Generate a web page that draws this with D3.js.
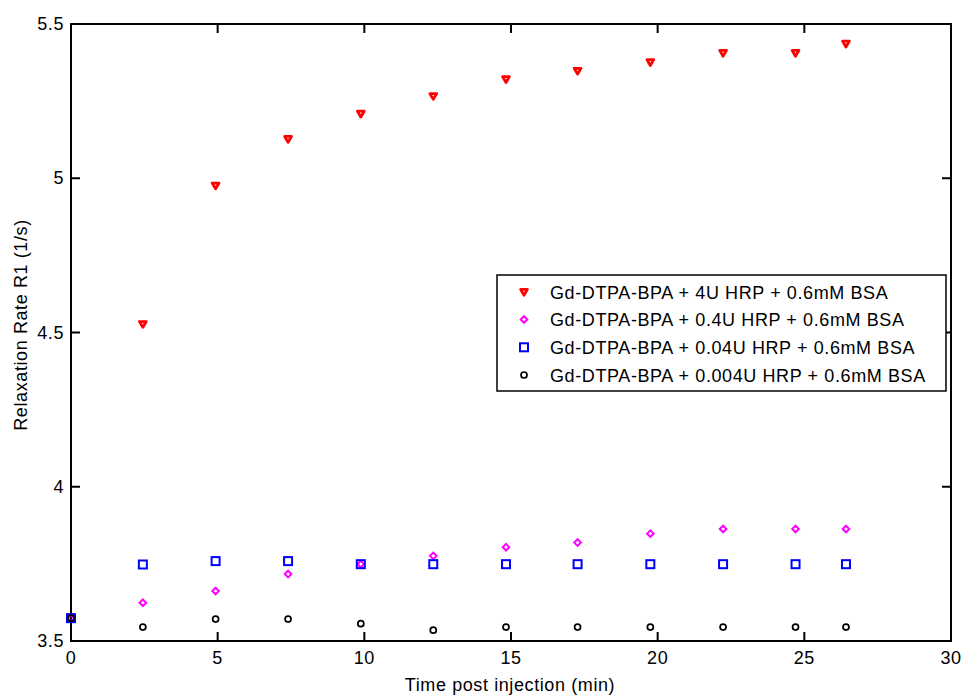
<!DOCTYPE html>
<html>
<head>
<meta charset="utf-8">
<script src="https://cdn.jsdelivr.net/npm/d3@7"></script>
<style>
  body { margin: 0; background: #fff; }
  svg text { font-family: "Liberation Sans", Arial, sans-serif; fill: #000; }
</style>
</head>
<body>
<div id="chart"></div>
<script>
// time points (min)
let timeRed = [2.45, 4.93, 7.4, 9.88, 12.35, 14.83, 17.27, 19.75, 22.23, 24.7, 26.42];
let timeAll = [0, 2.45, 4.93, 7.4, 9.88, 12.35, 14.83, 17.27, 19.75, 22.23, 24.7, 26.42];

let r1_4U = [4.527, 4.976, 5.127, 5.209, 5.266, 5.321, 5.348, 5.376, 5.406, 5.406, 5.436];
let r1_04U = [3.574, 3.624, 3.662, 3.717, 3.749, 3.776, 3.804, 3.819, 3.848, 3.863, 3.863, 3.863];
let r1_004U = [3.574, 3.748, 3.759, 3.759, 3.749, 3.749, 3.749, 3.749, 3.749, 3.749, 3.749, 3.749];
let r1_0004U = [3.574, 3.545, 3.571, 3.571, 3.556, 3.535, 3.545, 3.545, 3.545, 3.545, 3.545, 3.545];

let legendLabels = [
  "Gd-DTPA-BPA + 4U HRP + 0.6mM BSA",
  "Gd-DTPA-BPA + 0.4U HRP + 0.6mM BSA",
  "Gd-DTPA-BPA + 0.04U HRP + 0.6mM BSA",
  "Gd-DTPA-BPA + 0.004U HRP + 0.6mM BSA"
];
let xTicks = [0, 5, 10, 15, 20, 25, 30];
let yTicks = [3.5, 4, 4.5, 5, 5.5];

let width = 964, height = 697;
let plotL = 71, plotR = 951, plotT = 24, plotB = 641;
let fontSize = 18, spacing = 0.6;

let svg = d3.select("#chart").append("svg")
  .attr("width", width)
  .attr("height", height);

let x = d3.scaleLinear().domain([0, 30]).range([plotL, plotR]);
let y = d3.scaleLinear().domain([3.5, 5.5]).range([plotB, plotT]);

let series = [
  { t: timeRed, v: r1_4U, color: "#ff0000", shape: "tri" },
  { t: timeAll, v: r1_04U, color: "#ff00ff", shape: "diamond" },
  { t: timeAll, v: r1_004U, color: "#0000ff", shape: "square" },
  { t: timeAll, v: r1_0004U, color: "#000000", shape: "circle" }
];

function drawMarker(g, shape, color, cx, cy) {
  if (shape === "tri") {
    g.append("path")
      .attr("d", "M" + (cx - 3.4) + "," + (cy - 2.6) + "L" + (cx + 3.4) + "," + (cy - 2.6) + "L" + cx + "," + (cy + 3.2) + "Z")
      .attr("fill", "none").attr("stroke", color).attr("stroke-width", 2.8)
      .attr("stroke-linejoin", "round");
  } else if (shape === "diamond") {
    g.append("path")
      .attr("d", "M" + cx + "," + (cy - 3.3) + "L" + (cx + 3.3) + "," + cy + "L" + cx + "," + (cy + 3.3) + "L" + (cx - 3.3) + "," + cy + "Z")
      .attr("fill", "none").attr("stroke", color).attr("stroke-width", 2);
  } else if (shape === "square") {
    g.append("rect")
      .attr("x", cx - 4).attr("y", cy - 4).attr("width", 8).attr("height", 8)
      .attr("fill", "none").attr("stroke", color).attr("stroke-width", 2);
  } else {
    g.append("circle")
      .attr("cx", cx).attr("cy", cy).attr("r", 3)
      .attr("fill", "none").attr("stroke", color).attr("stroke-width", 1.7);
  }
}

// axes box
svg.append("rect")
  .attr("x", plotL).attr("y", plotT)
  .attr("width", plotR - plotL).attr("height", plotB - plotT)
  .attr("fill", "none").attr("stroke", "#000").attr("stroke-width", 2);

let tickLen = 9;
xTicks.forEach(function (t) {
  svg.append("line").attr("x1", x(t)).attr("x2", x(t)).attr("y1", plotB).attr("y2", plotB - tickLen)
    .attr("stroke", "#000").attr("stroke-width", 2);
  svg.append("line").attr("x1", x(t)).attr("x2", x(t)).attr("y1", plotT).attr("y2", plotT + tickLen)
    .attr("stroke", "#000").attr("stroke-width", 2);
  svg.append("text").attr("x", x(t)).attr("y", plotB + 23)
    .attr("text-anchor", "middle").attr("font-size", fontSize).attr("letter-spacing", spacing).text(t);
});
yTicks.forEach(function (t) {
  svg.append("line").attr("x1", plotL).attr("x2", plotL + tickLen).attr("y1", y(t)).attr("y2", y(t))
    .attr("stroke", "#000").attr("stroke-width", 2);
  svg.append("line").attr("x1", plotR).attr("x2", plotR - tickLen).attr("y1", y(t)).attr("y2", y(t))
    .attr("stroke", "#000").attr("stroke-width", 2);
  svg.append("text").attr("x", plotL - 7).attr("y", y(t) + 6)
    .attr("text-anchor", "end").attr("font-size", fontSize).attr("letter-spacing", spacing).text(t);
});

// axis labels
svg.append("text").attr("x", 510).attr("y", 691)
  .attr("text-anchor", "middle").attr("font-size", fontSize).attr("letter-spacing", spacing)
  .text("Time post injection (min)");
svg.append("text")
  .attr("transform", "translate(27,325) rotate(-90)")
  .attr("text-anchor", "middle").attr("font-size", fontSize).attr("letter-spacing", spacing)
  .text("Relaxation Rate R1 (1/s)");

// markers
let marks = svg.append("g");
series.forEach(function (s) {
  s.t.forEach(function (t, i) {
    drawMarker(marks, s.shape, s.color, x(t), y(s.v[i]));
  });
});

// legend
let lg = svg.append("g");
lg.append("rect")
  .attr("x", 497).attr("y", 275).attr("width", 449).attr("height", 116)
  .attr("fill", "#fff").attr("stroke", "#000").attr("stroke-width", 1.5);
let legendY = [292, 319.5, 347.3, 375];
series.forEach(function (s, i) {
  drawMarker(lg, s.shape, s.color, 524, legendY[i]);
  lg.append("text").attr("x", 550).attr("y", legendY[i] + 6.5)
    .attr("font-size", fontSize).attr("letter-spacing", spacing).text(legendLabels[i]);
});
</script>
</body>
</html>
